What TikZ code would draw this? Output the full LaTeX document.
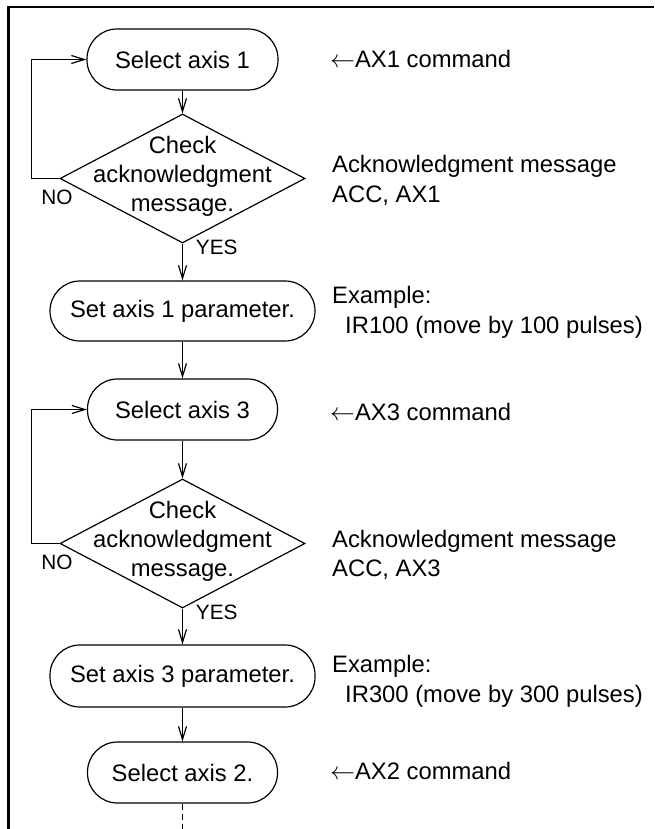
\documentclass[tikz,border=0pt]{standalone}
\usepackage{fontspec}
\setmainfont{Liberation Sans}
\usetikzlibrary{shapes.geometric,arrows.meta}
\begin{document}
\begin{tikzpicture}[x=1pt,y=-1pt,
  every node/.style={font=\fontsize{23.8}{30}\selectfont},
  term/.style={draw,line width=1.2pt,rounded corners=30pt,minimum height=61pt,inner sep=0},
  decision/.style={draw,diamond,line width=1.2pt,minimum width=245pt,minimum height=129pt,inner sep=0},
  dtext/.style={align=center,inner sep=0,font=\fontsize{23.8}{29}\selectfont},
  note/.style={anchor=base west,inner sep=0},
  small/.style={font=\fontsize{20.8}{24}\selectfont,inner sep=0},
  arr/.style={line width=1.2pt,-{Straight Barb[length=13pt,width=8pt,line width=1.2pt]}},
  frameline/.style={line width=2.6pt}
]
\useasboundingbox (0,0) rectangle (654,829);
\draw[frameline] (8.3,829) -- (8.3,7) -- (654,7);

% flow nodes
\node[term,minimum width=191pt] (s1) at (182.5,59.5) {Select axis 1};
\node[decision] (d1) at (182.5,178.5) {};
\node[dtext] (t1) at ([yshift=2.3pt]d1.center) {Check\\acknowledgment\\message.};
\node[term,minimum width=265pt,minimum height=60pt] (p1) at (182.5,311) {Set axis 1 parameter.};
\node[term,minimum width=190pt] (s3) at (182.5,409.5) {Select axis 3};
\node[decision] (d3) at (182.5,543.5) {};
\node[dtext] (t3) at ([yshift=2.3pt]d3.center) {Check\\acknowledgment\\message.};
\node[term,minimum width=265pt,minimum height=62pt] (p3) at (182.5,676) {Set axis 3 parameter.};
\node[term,minimum width=190pt] (s2) at (182.5,772.5) {Select axis 2.};
\coordinate (cont) at (182.5,829);

% connectors
\draw[arr] (s1) -- (d1);
\draw[arr] (d1) -- (p1);
\draw[arr] (p1) -- (s3);
\draw[arr] (s3) -- (d3);
\draw[arr] (d3) -- (p3);
\draw[arr] (p3) -- (s2);
\draw[arr] (d1.west) -- ++(-28,0) |- (s1.west);
\draw[arr] (d3.west) -- ++(-28,0) |- (s3.west);
\draw[line width=1.2pt,dash pattern=on 6pt off 4pt] (s2.south) -- (cont);

% branch labels
\node[small] (no1) at (57,197.5) {NO};
\node[small] (yes1) at (216.7,247.5) {YES};
\node[small] (no3) at (57,562.5) {NO};
\node[small] (yes3) at (216.7,612) {YES};

% notes
\node[note] (c1) at (330,68) {$\leftarrow$AX1 command};
\node[note] (a1) at (332,172) {Acknowledgment message};
\node[note] (a1b) at (332,202) {ACC, AX1};
\node[note] (e1) at (332,303) {Example:};
\node[note] (e1b) at (345,333) {IR100 (move by 100 pulses)};
\node[note] (c3) at (330,420) {$\leftarrow$AX3 command};
\node[note] (a3) at (332,547) {Acknowledgment message};
\node[note] (a3b) at (332,576) {ACC, AX3};
\node[note] (e3) at (332,672) {Example:};
\node[note] (e3b) at (345,702) {IR300 (move by 300 pulses)};
\node[note] (c2) at (330,779) {$\leftarrow$AX2 command};
\end{tikzpicture}
\end{document}
